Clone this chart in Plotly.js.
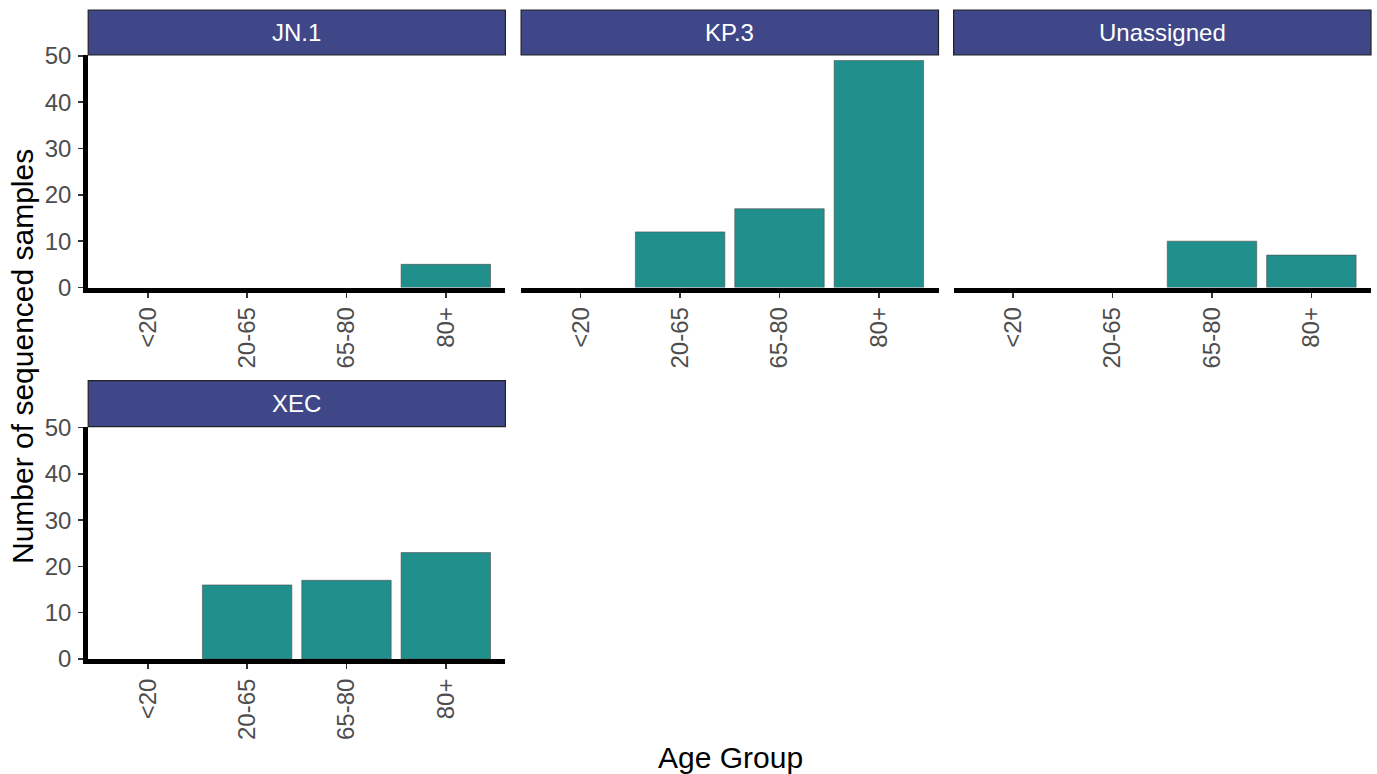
<!DOCTYPE html>
<html>
<head>
<meta charset="utf-8">
<script src="https://cdn.plot.ly/plotly-3.0.1.min.js"></script>
<style>html,body{margin:0;padding:0;background:#fff;}#chart{width:1377px;height:774px;}</style>
</head>
<body>
<div id="chart"></div>
<script>
var ageGroups = ["<20", "20-65", "65-80", "80+"];
var lineages = ["JN.1", "KP.3", "Unassigned", "XEC"];
var countsJN1 = [0, 0, 0, 5];
var countsKP3 = [0, 12, 17, 49];
var countsUnassigned = [0, 0, 10, 7];
var countsXEC = [0, 16, 17, 23];
var yTickVals = [0, 10, 20, 30, 40, 50];
var xTitle = "Age Group";
var yTitle = "Number of sequenced samples";

var W = 1377, H = 774;
var FONT = "Liberation Sans, Arial, sans-serif";
var series = [countsJN1, countsKP3, countsUnassigned, countsXEC];

// panel geometry in pixels
var colPx = [[88.2, 505.4], [521.1, 938.5], [953.6, 1371]];
var rowPx = [{strip: [10, 55], plot: [55, 287.5]}, {strip: [380.7, 426.7], plot: [426.7, 659]}];
var panelPos = [[0, 0], [1, 0], [2, 0], [0, 1]]; // [col,row]

function fx(p) { return p / W; }
function fy(p) { return 1 - p / H; }

var data = [];
var layout = {
  width: W, height: H,
  margin: {l: 0, r: 0, t: 0, b: 0},
  paper_bgcolor: "#ffffff",
  plot_bgcolor: "#ffffff",
  showlegend: false,
  font: {family: FONT, color: "#4d4d4d"},
  shapes: [],
  annotations: []
};

for (var i = 0; i < 4; i++) {
  var c = panelPos[i][0], r = panelPos[i][1];
  var sx = i === 0 ? "" : String(i + 1);
  var cp = colPx[c], rp = rowPx[r];
  data.push({
    type: "bar",
    x: ageGroups,
    y: series[i],
    xaxis: "x" + sx,
    yaxis: "y" + sx,
    width: 0.9,
    marker: {
      color: "#21908c",
      line: {color: "#4d4d4d", width: series[i].map(function (v) { return v > 0 ? 0.6 : 0; })}
    },
    hoverinfo: "x+y"
  });
  var showY = (c === 0);
  layout["xaxis" + sx] = {
    domain: [fx(cp[0]), fx(cp[1])],
    anchor: "y" + sx,
    type: "category",
    categoryorder: "array",
    categoryarray: ageGroups,
    range: [-0.6, 3.6],
    showgrid: false,
    zeroline: false,
    showline: true,
    linecolor: "#000000",
    linewidth: 5,
    ticks: "outside",
    ticklen: 5,
    tickwidth: 1.5,
    tickcolor: "#333333",
    tickangle: -90,
    ticklabelstandoff: 0,
    tickfont: {family: FONT, size: 24, color: "#4d4d4d"},
    automargin: false,
    fixedrange: true
  };
  layout["yaxis" + sx] = {
    domain: [fy(rp.plot[1]), fy(rp.plot[0])],
    anchor: "x" + sx,
    range: [0, 50.2],
    tickvals: yTickVals,
    showgrid: false,
    zeroline: false,
    showline: showY,
    linecolor: "#000000",
    linewidth: 5,
    ticks: showY ? "outside" : "",
    ticklen: 5,
    tickwidth: 1.5,
    tickcolor: "#333333",
    showticklabels: showY,
    ticklabelstandoff: 2,
    tickfont: {family: FONT, size: 24, color: "#4d4d4d"},
    automargin: false,
    fixedrange: true
  };
  // strip
  layout.shapes.push({
    type: "rect", xref: "paper", yref: "paper",
    x0: fx(cp[0]), x1: fx(cp[1]), y0: fy(rp.strip[1]), y1: fy(rp.strip[0]),
    fillcolor: "#3f4788", line: {color: "#222222", width: 1.2}, layer: "above"
  });
  layout.annotations.push({
    xref: "paper", yref: "paper",
    x: fx((cp[0] + cp[1]) / 2), y: fy((rp.strip[0] + rp.strip[1]) / 2),
    xanchor: "center", yanchor: "middle",
    text: lineages[i], showarrow: false,
    font: {family: FONT, size: 24, color: "#ffffff"}
  });
}

layout.annotations.push({
  xref: "paper", yref: "paper",
  x: fx(730), y: fy(757), xanchor: "center", yanchor: "middle",
  text: xTitle, showarrow: false,
  font: {family: FONT, size: 30, color: "#000000"}
});
layout.annotations.push({
  xref: "paper", yref: "paper",
  x: fx(23), y: fy(357), xanchor: "center", yanchor: "middle",
  text: yTitle, showarrow: false, textangle: -90,
  font: {family: FONT, size: 30, color: "#000000"}
});

Plotly.newPlot("chart", data, layout, {displayModeBar: false, staticPlot: true});
</script>
</body>
</html>
